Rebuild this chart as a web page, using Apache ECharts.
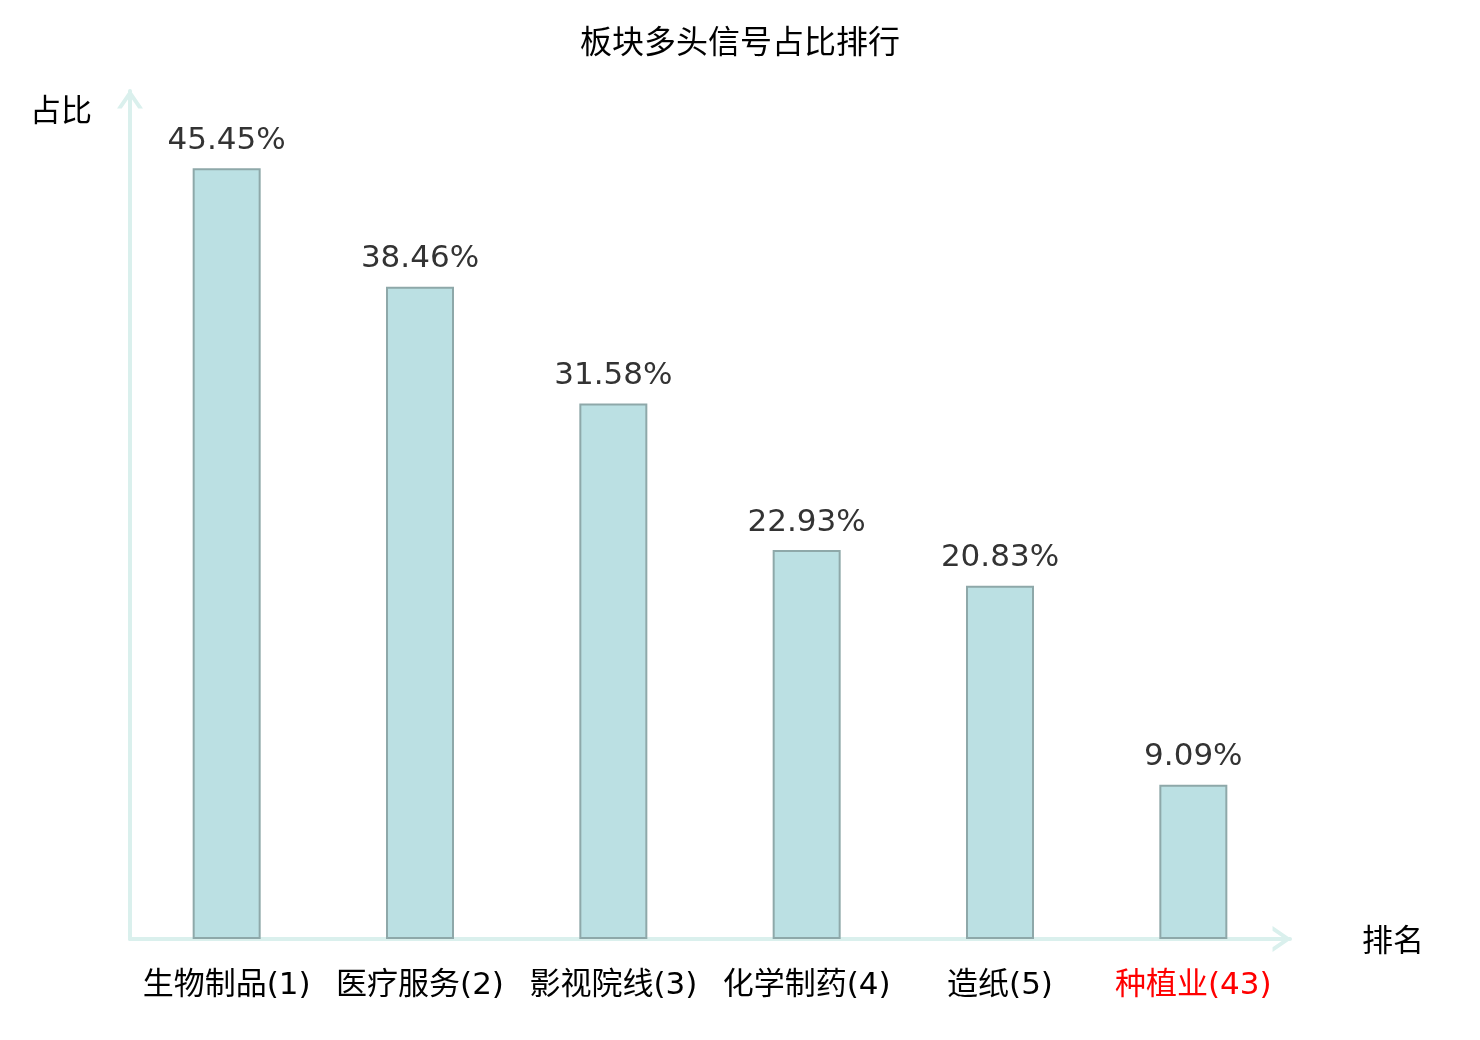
<!DOCTYPE html>
<html>
<head>
<meta charset="utf-8">
<title>板块多头信号占比排行</title>
<script src="https://cdn.jsdelivr.net/npm/echarts@6/dist/echarts.min.js"></script>
<style>
  html, body { margin: 0; padding: 0; background: #fff; }
  #chart { width: 1480px; height: 1040px; }
</style>
</head>
<body>
<div id="chart"></div>
<script>
const categories = ["生物制品(1)", "医疗服务(2)", "影视院线(3)", "化学制药(4)", "造纸(5)", "种植业(43)"];
const ratios = [45.45, 38.46, 31.58, 22.93, 20.83, 9.09];
// the last category is the highlighted one (drawn in red)
const highlightIndex = 5;

const cjkFont = '"Noto Sans CJK SC", sans-serif';
const mixFont = '"DejaVu Sans", "Noto Sans CJK SC", sans-serif';
const axisColor = "#daf0ed";
// open chevron used as axis arrow, pointing up
const chevron = "path://M0,16 L11,0 L22,16 L18,16 L11,5.8 L4,16 Z";

const chart = echarts.init(document.getElementById("chart"));

const option = {
  backgroundColor: "#fff",
  animation: false,
  title: {
    text: "板块多头信号占比排行",
    left: "center",
    top: 20,
    textStyle: { fontFamily: cjkFont, fontSize: 32, fontWeight: "normal", color: "#000" }
  },
  grid: { left: 130, right: 190, top: 91, bottom: 101 },
  xAxis: {
    type: "category",
    data: categories,
    name: "排名",
    nameLocation: "end",
    nameGap: 72,
    nameTextStyle: { fontFamily: cjkFont, fontSize: 31, color: "#000", verticalAlign: "middle", padding: [4, 0, 0, 0] },
    axisLine: {
      lineStyle: { color: axisColor, width: 4 },
      symbol: ["none", chevron],
      symbolSize: [26, 19],
      symbolOffset: [0, -8]
    },
    axisTick: { show: false },
    axisLabel: {
      fontFamily: mixFont,
      fontSize: 31,
      margin: 31,
      interval: 0,
      color: (value, index) => (index === highlightIndex ? "#ff0000" : "#000")
    }
  },
  yAxis: {
    type: "value",
    min: 0,
    max: 50,
    name: "占比",
    nameLocation: "end",
    nameGap: 0,
    nameTextStyle: {
      fontFamily: cjkFont, fontSize: 31, color: "#000",
      align: "right", padding: [0, 38, -34, 0]
    },
    axisLine: {
      show: true,
      lineStyle: { color: axisColor, width: 4 },
      symbol: ["none", chevron],
      symbolSize: [26, 19],
      symbolOffset: [0, -8]
    },
    axisTick: { show: false },
    axisLabel: { show: false },
    splitLine: { show: false }
  },
  series: [
    {
      type: "bar",
      data: ratios,
      barWidth: 68,
      itemStyle: { color: "#bbe0e3", borderColor: "#8ea8a9", borderWidth: 2 },
      label: {
        show: true,
        position: "top",
        distance: 12,
        fontFamily: '"DejaVu Sans", sans-serif',
        fontSize: 31,
        color: "#333",
        formatter: (p) => p.value.toFixed(2) + "%"
      }
    }
  ]
};

chart.setOption(option);
window.addEventListener("resize", () => chart.resize());
</script>
</body>
</html>
